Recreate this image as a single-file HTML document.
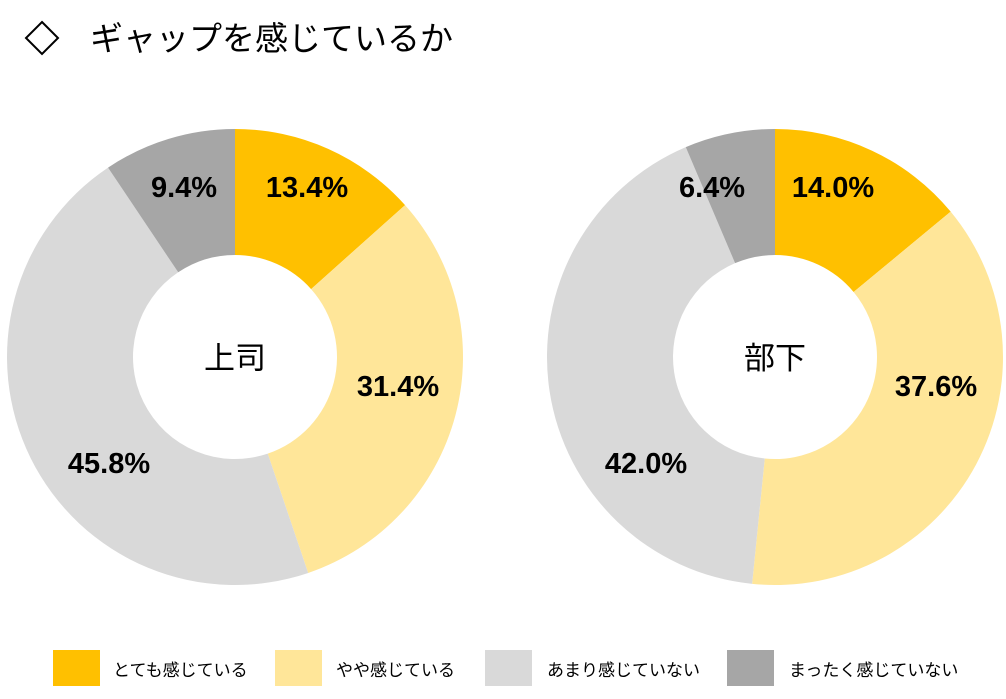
<!DOCTYPE html>
<html><head><meta charset="utf-8">
<style>
html,body{margin:0;padding:0;background:#fff;}
body{width:1006px;height:694px;overflow:hidden;font-family:"Liberation Sans","Noto Sans CJK JP",sans-serif;}
</style></head>
<body>
<svg id="s" width="1006" height="694" xmlns="http://www.w3.org/2000/svg" font-family="Liberation Sans, Noto Sans CJK JP, sans-serif">
<polygon points="42,22 58,38 42,54 26,38" fill="none" stroke="#000" stroke-width="2"/>
<text x="90" y="50" font-size="33" fill="#000">ギャップを感じているか</text>
<g id="d"></g>
<g font-size="29" font-weight="bold" fill="#000" text-anchor="middle">
<text x="307" y="197">13.4%</text>
<text x="184" y="197">9.4%</text>
<text x="398" y="396">31.4%</text>
<text x="109" y="473">45.8%</text>
<text x="833" y="197">14.0%</text>
<text x="712" y="197">6.4%</text>
<text x="936" y="396">37.6%</text>
<text x="646" y="473">42.0%</text>
</g>
<g font-size="31" fill="#000" text-anchor="middle">
<text x="235" y="369">上司</text>
<text x="775" y="369">部下</text>
</g>
<g font-size="17" fill="#000">
<rect x="53" y="650" width="47" height="36" fill="#FFC000"/><text x="113" y="676">とても感じている</text>
<rect x="275" y="650" width="47" height="36" fill="#FFE699"/><text x="336" y="676">やや感じている</text>
<rect x="485" y="650" width="47" height="36" fill="#D9D9D9"/><text x="547" y="676">あまり感じていない</text>
<rect x="727" y="650" width="47" height="36" fill="#A6A6A6"/><text x="789" y="676">まったく感じていない</text>
</g>
</svg>
<script>
(function(){
var cols=["#FFC000","#FFE699","#D9D9D9","#A6A6A6"];
function donut(cx,cy,R,r,vals){
 var g=document.getElementById("d"),a=0,out="";
 for(var i=0;i<vals.length;i++){
  var a0=a,a1=a+vals[i]/100*2*Math.PI;a=a1;
  var large=(a1-a0)>Math.PI?1:0;
  function p(rad,an){return [cx+rad*Math.sin(an),cy-rad*Math.cos(an)];}
  var p1=p(R,a0),p2=p(R,a1),p3=p(r,a1),p4=p(r,a0);
  out+='<path fill="'+cols[i]+'" d="M'+p1+' A'+R+','+R+' 0 '+large+' 1 '+p2+' L'+p3+' A'+r+','+r+' 0 '+large+' 0 '+p4+' Z"/>';
 }
 g.innerHTML+=out;
}
donut(235,357,228,102,[13.4,31.4,45.8,9.4]);
donut(775,357,228,102,[14.0,37.6,42.0,6.4]);
})();
</script>
</body></html>
